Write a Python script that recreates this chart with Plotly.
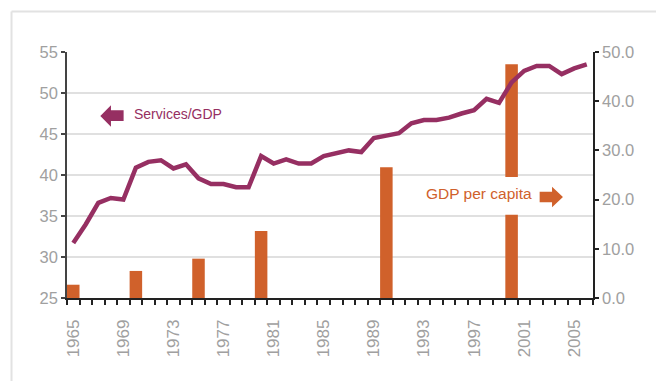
import plotly.graph_objects as go

# Services share of GDP (%, left axis) and GDP per capita (right axis)
years = list(range(1965, 2007))
services_gdp = [31.7, 34.0, 36.6, 37.2, 37.0, 40.9, 41.6, 41.8, 40.8, 41.3,
                39.6, 38.9, 38.9, 38.5, 38.5, 42.3, 41.4, 41.9, 41.4, 41.4,
                42.3, 42.7, 43.0, 42.8, 44.5, 44.8, 45.1, 46.3, 46.7, 46.7,
                47.0, 47.5, 47.9, 49.3, 48.8, 51.3, 52.7, 53.3, 53.3, 52.3,
                53.0, 53.5]
gdp_years = [1965, 1970, 1975, 1980, 1990, 2000]
gdp_per_capita = [2.7, 5.5, 8.0, 13.6, 26.6, 47.5]

MAROON = "#962f62"
ORANGE = "#d0612b"
GRAY_TXT = "#a0a0a0"
FONT = "Liberation Sans, Arial, sans-serif"

fig = go.Figure()
fig.add_bar(x=gdp_years, y=gdp_per_capita, width=1, yaxis="y",
            marker=dict(color=ORANGE, line=dict(width=0)), showlegend=False)
fig.add_scatter(x=years, y=services_gdp, mode="lines", yaxis="y2",
                line=dict(color=MAROON, width=4.5), showlegend=False)

fig.update_layout(
    width=656, height=381,
    margin=dict(l=67, r=63, t=52, b=83),
    paper_bgcolor="white", plot_bgcolor="white",
    xaxis=dict(range=[1964.5, 2006.5], tickmode="linear", tick0=1965, dtick=4,
               ticks="", tickangle=-90, ticklabelstandoff=13,
               tickfont=dict(family=FONT, size=17, color=GRAY_TXT),
               showgrid=False, zeroline=False,
               showline=True, linecolor="#222", linewidth=1.5,
               minor=dict(ticks="outside", tick0=1964.5, dtick=1, ticklen=5,
                          tickcolor="#222", tickwidth=1.5, showgrid=False)),
    yaxis=dict(side="right", range=[0, 50], tickmode="linear", tick0=0, dtick=10,
               tickformat=".1f", ticks="outside", ticklen=4, tickcolor="#222",
               tickwidth=1.5, showgrid=False, zeroline=False,
               showline=True, linecolor="#222", linewidth=1.5,
               tickfont=dict(family=FONT, size=16.5, color=GRAY_TXT)),
    yaxis2=dict(overlaying="y", side="left", range=[25, 55], tickmode="linear",
                tick0=25, dtick=5, ticks="outside", ticklen=4, tickcolor="#444",
                tickwidth=1.5, showgrid=True, gridcolor="#e0e0e0", gridwidth=1.5,
                zeroline=False, showline=True, linecolor="#444", linewidth=1.5,
                tickfont=dict(family=FONT, size=16.5, color=GRAY_TXT)),
    shapes=[
        # light frame along the top and left edges
        dict(type="line", xref="paper", yref="paper", x0=-0.1055, x1=1.3,
             y0=1.165, y1=1.165, line=dict(color="#e2e2e2", width=2)),
        dict(type="line", xref="paper", yref="paper", x0=-0.1055, x1=-0.1055,
             y0=-0.5, y1=1.165, line=dict(color="#e2e2e2", width=2)),
        # white backing behind the GDP per capita label
        dict(type="rect", xref="x", yref="y2", x0=1996.5, x1=2004.4,
             y0=35.15, y1=39.75, fillcolor="white", line=dict(width=0),
             layer="above"),
        # left-pointing block arrow for Services/GDP
        dict(type="path", xref="x", yref="y2", layer="above",
             path="M 1967.16 47.18 L 1968.01 48.52 L 1968.01 47.91 L 1969.02 47.91 "
                  "L 1969.02 46.6 L 1968.01 46.6 L 1968.01 45.88 Z",
             fillcolor=MAROON, line=dict(width=0)),
        # right-pointing block arrow for GDP per capita
        dict(type="path", xref="x", yref="y2", layer="above",
             path="M 2002.24 37.97 L 2003.23 37.97 L 2003.23 38.58 L 2004.10 37.32 "
                  "L 2003.23 36.07 L 2003.23 36.68 L 2002.24 36.68 Z",
             fillcolor=ORANGE, line=dict(width=0)),
    ],
    annotations=[
        dict(text="Services/GDP", x=1969.7, y=47.38, xref="x", yref="y2",
             showarrow=False, xanchor="left", yanchor="middle",
             font=dict(family=FONT, size=14, color=MAROON)),
        dict(text="GDP per capita", x=2001.8, y=37.69, xref="x", yref="y2",
             showarrow=False, xanchor="right", yanchor="middle",
             font=dict(family=FONT, size=15.5, color=ORANGE)),
    ],
)

fig.write_html("out.html")
